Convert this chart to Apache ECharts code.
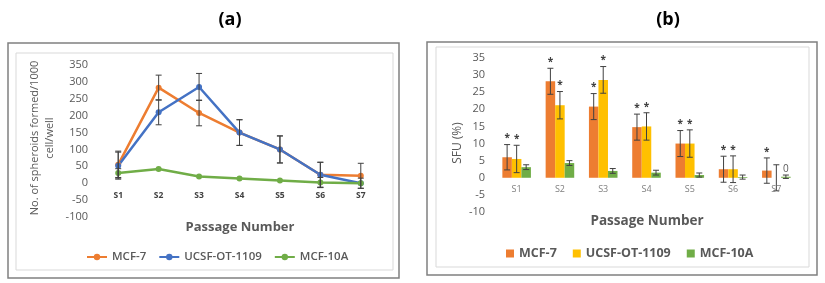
<!DOCTYPE html>
<html><head><meta charset="utf-8">
<script src="https://cdn.jsdelivr.net/npm/echarts@6/dist/echarts.min.js"></script>
<style>html,body{margin:0;padding:0;background:#fff}#c{width:825px;height:283px}</style>
</head><body><div id="c"></div>
<script>
// ---------- data ----------
const categories = ['S1','S2','S3','S4','S5','S6','S7'];
// panel (a): spheroids per 1000 cells/well
const mcf7A   = [55, 283, 208, 150, 100, 25, 22];
const ucsfA   = [52, 210, 285, 150, 100, 25, 0];
const mcf10aA = [30, 42, 20, 14, 8, 2, 0];
const mcf7AErr   = [40, 37, 38, 38, 40, 37, 37];
const ucsfAErr   = [40, 37, 40, 38, 40, 37, 0];
const mcf10aAErr = [13, 0, 0, 0, 0, 15, 15];
const yTicksA = {min: -100, max: 350, interval: 50};
// panel (b): SFU (%)
const mcf7B   = [6, 28.2, 20.8, 14.8, 10, 2.5, 2.1];
const ucsfB   = [5.5, 21.2, 28.6, 15, 10, 2.5, 0];
const mcf10aB = [3.1, 4.3, 2.0, 1.5, 0.8, 0.2, 0.3];
const mcf7BErr   = [3.7, 3.8, 3.8, 3.8, 3.8, 3.8, 3.7];
const ucsfBErr   = [4.0, 4.0, 3.9, 4.0, 4.0, 3.9, 3.8];
const mcf10aBErr = [0.7, 0.7, 0.7, 0.7, 0.6, 0.6, 0.5];
const mcf7BStar = [1,1,1,1,1,1,1];
const ucsfBStar = [1,1,1,1,1,1,0];
const mcf10aBStar = [0,0,0,0,0,0,0];
const annotB = [[6, 2.6, '0']]; // text label near S7 (MCF-10A)
const yTicksB = {min: -10, max: 35, interval: 5};
const seriesNames = ['MCF-7', 'UCSF-OT-1109', 'MCF-10A'];

// ---------- style ----------
const FONT = '"Open Sans", "DejaVu Sans", sans-serif';
const TXT = '#595959';
const cLines = ['#ED7D31', '#4472C4', '#70AD47'];
const cBars = ['#ED7D31', '#FFC000', '#70AD47'];
const BAR_CAT_GAP = 0.34;

const chart = echarts.init(document.getElementById('c'), null, {renderer: 'canvas'});

function errData(vals, errs, stars) {
  return vals.map((v, i) => [i, v, errs[i], stars ? stars[i] : 0]);
}
function makeErrRender(offsetIdx, nBars) {
  return function (params, api) {
    const x = api.value(0), v = api.value(1), e = api.value(2), s = api.value(3);
    const children = [];
    let cx = api.coord([x, v])[0];
    if (nBars) {
      const bw = api.size([1, 0])[0] * (1 - BAR_CAT_GAP) / nBars;
      cx += offsetIdx * bw;
    }
    if (e > 0) {
      const top = api.coord([x, v + e])[1];
      const bot = api.coord([x, v - e])[1];
      const st = {stroke: '#404040', lineWidth: 1};
      children.push({type: 'line', shape: {x1: cx, y1: top, x2: cx, y2: bot}, style: st});
      children.push({type: 'line', shape: {x1: cx - 3, y1: top, x2: cx + 3, y2: top}, style: st});
      children.push({type: 'line', shape: {x1: cx - 3, y1: bot, x2: cx + 3, y2: bot}, style: st});
      if (s) {
        children.push({type: 'text', x: cx, y: top - 6, style: {text: '*', font: 'bold 10px ' + FONT, fill: '#404040', textAlign: 'center', textVerticalAlign: 'middle'}});
      }
    }
    return {type: 'group', children: children};
  };
}
// category labels drawn at the zero line of each panel
function catLabelSeries(axisIdx, font, color) {
  return {
    type: 'custom', xAxisIndex: axisIdx, yAxisIndex: axisIdx, z: 5, silent: true,
    encode: {x: 0, y: 1},
    data: categories.map((c, i) => [i, 0]),
    renderItem: function (params, api) {
      const p = api.coord([api.value(0), 0]);
      return {type: 'text', x: p[0], y: p[1] + 12, style: {text: categories[params.dataIndex], font: font, fill: color, textAlign: 'center', textVerticalAlign: 'middle'}};
    }
  };
}

const series = [];
// panel (a) lines
[mcf7A, ucsfA, mcf10aA].forEach((d, i) => {
  series.push({
    name: seriesNames[i], type: 'line', xAxisIndex: 0, yAxisIndex: 0,
    data: d, symbol: 'circle', symbolSize: 6, z: 3,
    lineStyle: {color: cLines[i], width: 2.5}, itemStyle: {color: cLines[i]}
  });
});
[[mcf7A, mcf7AErr], [ucsfA, ucsfAErr], [mcf10aA, mcf10aAErr]].forEach((p, i) => {
  series.push({
    type: 'custom', xAxisIndex: 0, yAxisIndex: 0, z: 4,
    renderItem: makeErrRender(0, 0), encode: {x: 0, y: 1},
    data: errData(p[0], p[1]), silent: true
  });
});
series.push(catLabelSeries(0, 'bold 8.5px ' + FONT, '#404040'));
// panel (b) bars
[mcf7B, ucsfB, mcf10aB].forEach((d, i) => {
  series.push({
    name: 'b:' + seriesNames[i], type: 'bar', xAxisIndex: 1, yAxisIndex: 1,
    data: d, barGap: '0%', barCategoryGap: (BAR_CAT_GAP * 100) + '%',
    itemStyle: {color: cBars[i]}
  });
});
[[mcf7B, mcf7BErr, mcf7BStar], [ucsfB, ucsfBErr, ucsfBStar], [mcf10aB, mcf10aBErr, mcf10aBStar]].forEach((p, i) => {
  series.push({
    type: 'custom', xAxisIndex: 1, yAxisIndex: 1, z: 4,
    renderItem: makeErrRender(i - 1, 3), encode: {x: 0, y: 1},
    data: errData(p[0], p[1], p[2]), silent: true
  });
});
series.push(catLabelSeries(1, '9px ' + FONT, '#7f7f7f'));
series.push({
  type: 'custom', xAxisIndex: 1, yAxisIndex: 1, z: 4, silent: true, encode: {x: 0, y: 1},
  data: annotB,
  renderItem: function (params, api) {
    const bw = api.size([1, 0])[0] * (1 - BAR_CAT_GAP) / 3;
    const p = api.coord([api.value(0), api.value(1)]);
    return {type: 'text', x: p[0] + bw, y: p[1], style: {text: String(annotB[params.dataIndex][2]), font: '10px ' + FONT, fill: TXT, textAlign: 'center', textVerticalAlign: 'middle'}};
  }
});

const axisLabelY = {color: TXT, fontSize: 11, fontFamily: FONT, margin: 10};
const option = {
  animation: false,
  textStyle: {fontFamily: FONT},
  grid: [
    {left: 98, right: 444, top: 65, bottom: 66},
    {left: 495, right: 27, top: 58, bottom: 71}
  ],
  xAxis: [
    {type: 'category', gridIndex: 0, data: categories, boundaryGap: true,
     axisLine: {show: false}, axisTick: {show: false}, axisLabel: {show: false}},
    {type: 'category', gridIndex: 1, data: categories, boundaryGap: true,
     axisLine: {show: false}, axisTick: {show: false}, axisLabel: {show: false}}
  ],
  yAxis: [
    {type: 'value', gridIndex: 0, min: yTicksA.min, max: yTicksA.max, interval: yTicksA.interval,
     axisLine: {show: false}, axisTick: {show: false}, splitLine: {show: false}, axisLabel: axisLabelY},
    {type: 'value', gridIndex: 1, min: yTicksB.min, max: yTicksB.max, interval: yTicksB.interval,
     axisLine: {show: false}, axisTick: {show: false}, splitLine: {show: false}, axisLabel: axisLabelY}
  ],
  legend: [
    {data: seriesNames, left: 81, top: 246, itemWidth: 20, itemHeight: 8, itemGap: 12,
     textStyle: {color: TXT, fontSize: 11.5, fontWeight: 600, fontFamily: FONT}},
    {data: seriesNames.map(n => 'b:' + n), left: 501, top: 242, itemWidth: 8, itemHeight: 8, itemGap: 16,
     icon: 'rect', formatter: n => n.slice(2),
     textStyle: {color: TXT, fontSize: 12.5, fontWeight: 'bold', fontFamily: FONT}}
  ],
  graphic: [
    {type: 'rect', shape: {x: 8, y: 43, width: 391, height: 235}, style: {fill: null, stroke: '#808080', lineWidth: 1.5}, silent: true},
    {type: 'rect', shape: {x: 16, y: 53, width: 377, height: 217}, style: {fill: null, stroke: '#d9d9d9', lineWidth: 1}, silent: true},
    {type: 'rect', shape: {x: 427, y: 42, width: 390, height: 233}, style: {fill: null, stroke: '#808080', lineWidth: 1.5}, silent: true},
    {type: 'rect', shape: {x: 436, y: 47, width: 373, height: 220}, style: {fill: null, stroke: '#d9d9d9', lineWidth: 1}, silent: true},
    {type: 'text', x: 230, y: 20, style: {text: '(a)', font: 'bold 18px ' + FONT, fill: '#000', textAlign: 'center', textVerticalAlign: 'middle'}},
    {type: 'text', x: 668, y: 20, style: {text: '(b)', font: 'bold 18px ' + FONT, fill: '#000', textAlign: 'center', textVerticalAlign: 'middle'}},
    {type: 'text', x: 240, y: 227, style: {text: 'Passage Number', font: 'bold 13px ' + FONT, fill: TXT, textAlign: 'center', textVerticalAlign: 'middle'}},
    {type: 'text', x: 647, y: 221, style: {text: 'Passage Number', font: 'bold 13.5px ' + FONT, fill: TXT, textAlign: 'center', textVerticalAlign: 'middle'}},
    {type: 'text', x: 42, y: 138, rotation: Math.PI / 2, style: {text: 'No. of spheroids formed/1000\ncell/well', font: '11px ' + FONT, lineHeight: 15, fill: TXT, textAlign: 'center', textVerticalAlign: 'middle'}},
    {type: 'text', x: 458, y: 143, rotation: Math.PI / 2, style: {text: 'SFU (%)', font: '12px ' + FONT, fill: TXT, textAlign: 'center', textVerticalAlign: 'middle'}}
  ],
  series: series
};
chart.setOption(option);
</script>
</body></html>
